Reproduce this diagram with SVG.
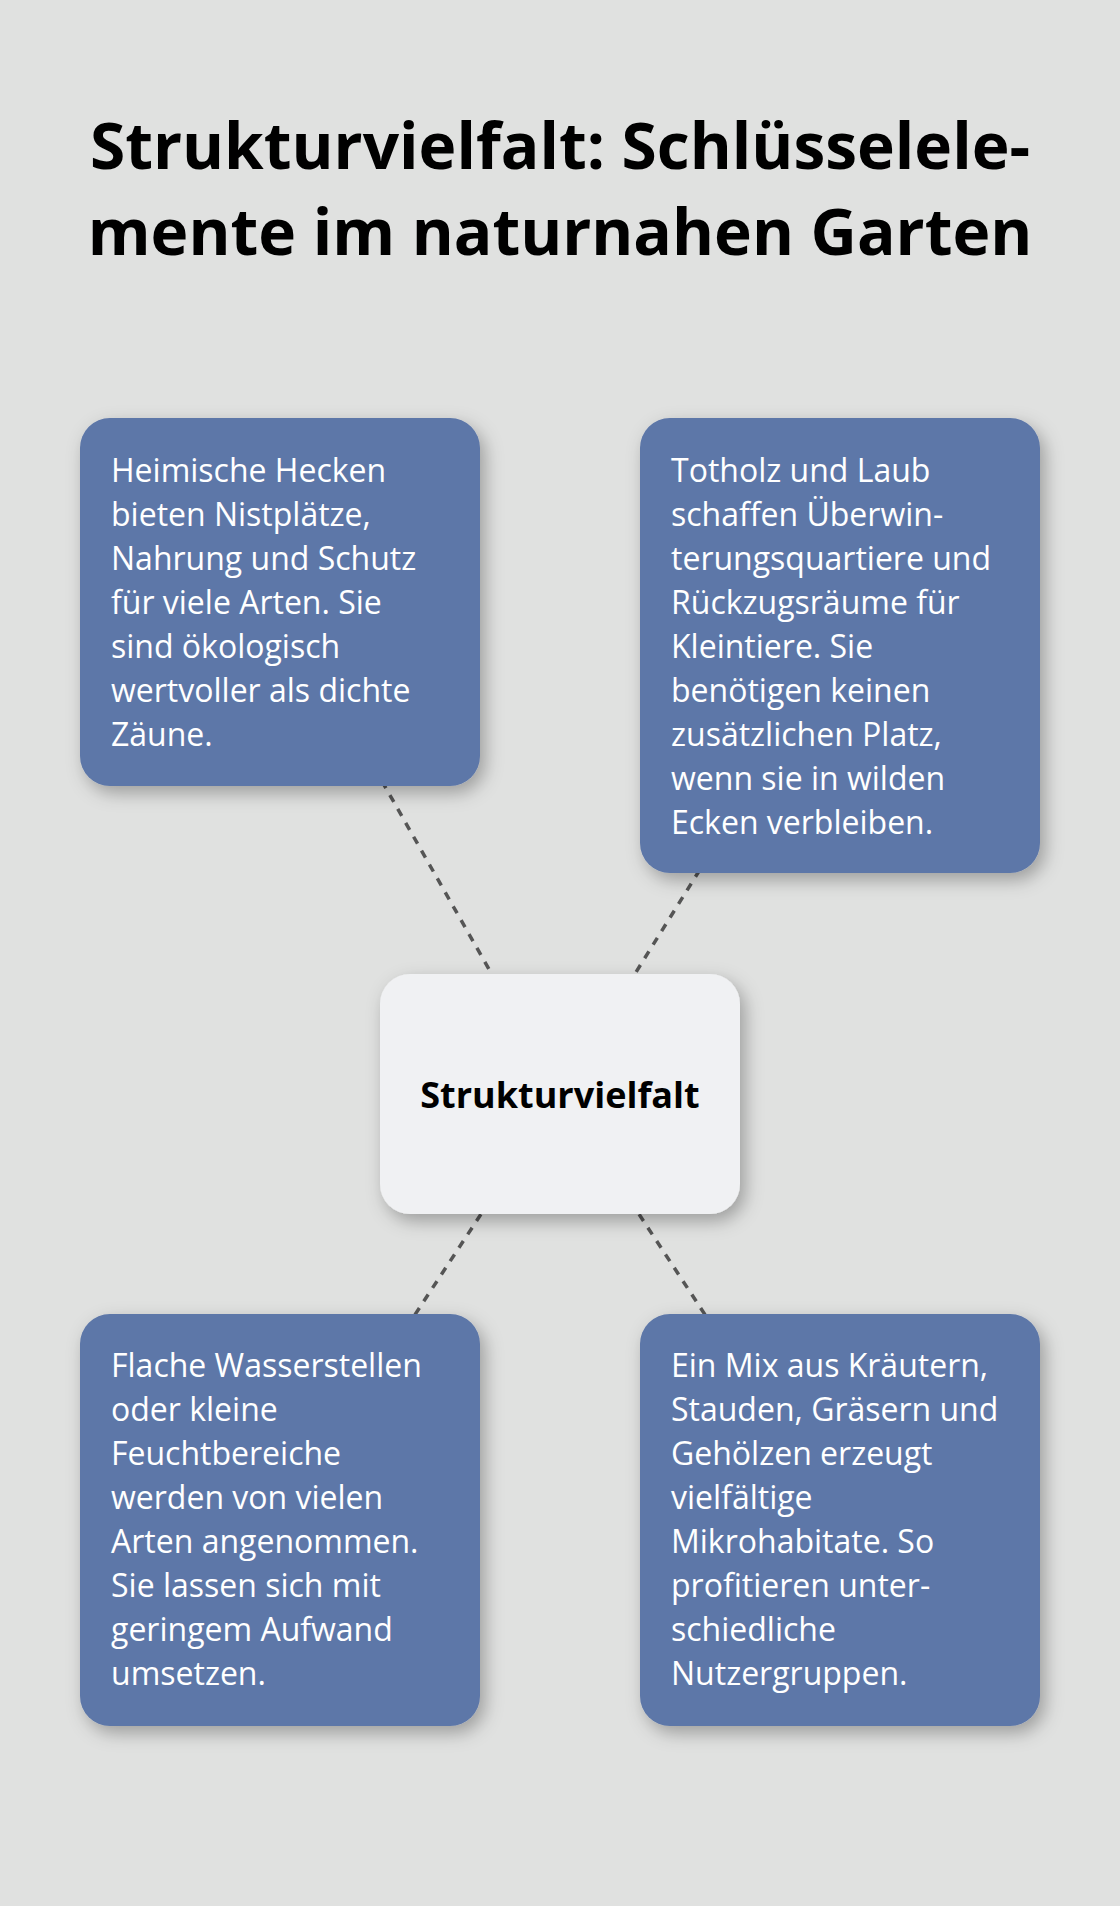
<svg xmlns="http://www.w3.org/2000/svg" width="1120" height="1906" viewBox="0 0 1120 1906">
  <style>
    .title { font-family: "Open Sans", "Noto Sans", "Liberation Sans", sans-serif; font-weight: 700; font-size: 64px; fill: #000000; }
    .body { font-family: "Open Sans", "Noto Sans", "Liberation Sans", sans-serif; font-size: 32px; fill: #FFFFFF; }
    .center { font-family: "Open Sans", "Noto Sans", "Liberation Sans", sans-serif; font-weight: 700; font-size: 36px; fill: #000000; }
    .box { fill: #5D77A8; filter: url(#shadow); }
    .hub { fill: #F0F1F3; filter: url(#shadow); }
    .conn { stroke: #555555; stroke-width: 3.5; stroke-dasharray: 8 8; fill: none; }
  </style>
  <defs>
    <filter id="shadow" x="-20%" y="-20%" width="150%" height="150%">
      <feDropShadow dx="5" dy="7" stdDeviation="9" flood-color="#000000" flood-opacity="0.3"/>
    </filter>
  </defs>
  <rect x="0" y="0" width="1120" height="1906" fill="#E0E1E0"/>
  <g id="title">
    <text class="title" x="560" y="169" text-anchor="middle">Strukturvielfalt: Schlüsselele-</text>
    <text class="title" x="560" y="255" text-anchor="middle">mente im naturnahen Garten</text>
  </g>
  <g id="connectors">
    <line class="conn" x1="560" y1="1094" x2="280" y2="602"/>
    <line class="conn" x1="560" y1="1094" x2="840" y2="645"/>
    <line class="conn" x1="560" y1="1094" x2="280" y2="1520"/>
    <line class="conn" x1="560" y1="1094" x2="840" y2="1520"/>
  </g>
  <g id="node-hecken">
    <rect class="box" x="80" y="418" width="400" height="368" rx="30"/>
    <text class="body" x="111" y="482">Heimische Hecken</text>
    <text class="body" x="111" y="526">bieten Nistplätze,</text>
    <text class="body" x="111" y="570">Nahrung und Schutz</text>
    <text class="body" x="111" y="614">für viele Arten. Sie</text>
    <text class="body" x="111" y="658">sind ökologisch</text>
    <text class="body" x="111" y="702">wertvoller als dichte</text>
    <text class="body" x="111" y="746">Zäune.</text>
  </g>
  <g id="node-totholz">
    <rect class="box" x="640" y="418" width="400" height="455" rx="30"/>
    <text class="body" x="671" y="482">Totholz und Laub</text>
    <text class="body" x="671" y="526">schaffen Überwin-</text>
    <text class="body" x="671" y="570">terungsquartiere und</text>
    <text class="body" x="671" y="614">Rückzugsräume für</text>
    <text class="body" x="671" y="658">Kleintiere. Sie</text>
    <text class="body" x="671" y="702">benötigen keinen</text>
    <text class="body" x="671" y="746">zusätzlichen Platz,</text>
    <text class="body" x="671" y="790">wenn sie in wilden</text>
    <text class="body" x="671" y="834">Ecken verbleiben.</text>
  </g>
  <g id="node-center">
    <rect class="hub" x="380" y="974" width="360" height="240" rx="30"/>
    <text class="center" x="560" y="1108" text-anchor="middle">Strukturvielfalt</text>
  </g>
  <g id="node-wasser">
    <rect class="box" x="80" y="1314" width="400" height="412" rx="30"/>
    <text class="body" x="111" y="1377">Flache Wasserstellen</text>
    <text class="body" x="111" y="1421">oder kleine</text>
    <text class="body" x="111" y="1465">Feuchtbereiche</text>
    <text class="body" x="111" y="1509">werden von vielen</text>
    <text class="body" x="111" y="1553">Arten angenommen.</text>
    <text class="body" x="111" y="1597">Sie lassen sich mit</text>
    <text class="body" x="111" y="1641">geringem Aufwand</text>
    <text class="body" x="111" y="1685">umsetzen.</text>
  </g>
  <g id="node-mix">
    <rect class="box" x="640" y="1314" width="400" height="412" rx="30"/>
    <text class="body" x="671" y="1377">Ein Mix aus Kräutern,</text>
    <text class="body" x="671" y="1421">Stauden, Gräsern und</text>
    <text class="body" x="671" y="1465">Gehölzen erzeugt</text>
    <text class="body" x="671" y="1509">vielfältige</text>
    <text class="body" x="671" y="1553">Mikrohabitate. So</text>
    <text class="body" x="671" y="1597">profitieren unter-</text>
    <text class="body" x="671" y="1641">schiedliche</text>
    <text class="body" x="671" y="1685">Nutzergruppen.</text>
  </g>
</svg>
